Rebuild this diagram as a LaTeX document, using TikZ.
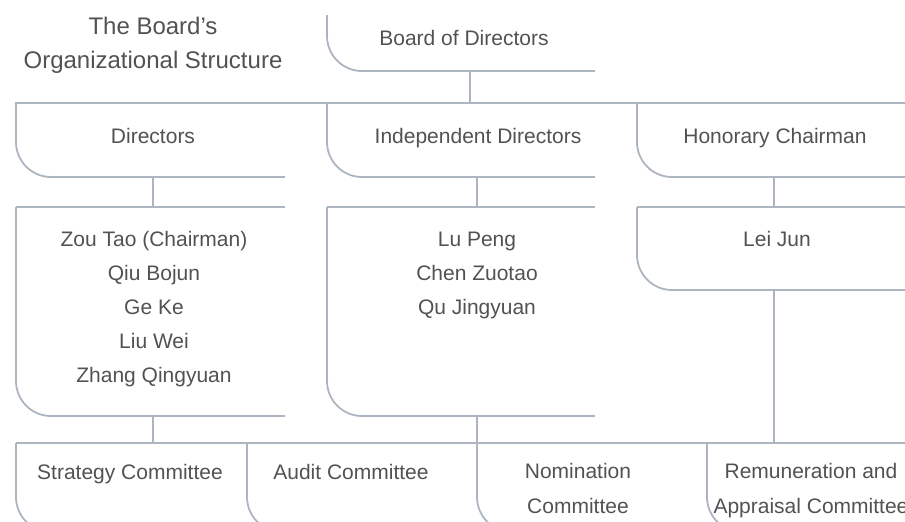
\documentclass[tikz,border=0pt]{standalone}
\usepackage{fontspec}
\setmainfont{Liberation Sans}
\definecolor{rulegray}{RGB}{172,181,192}
\definecolor{textgray}{RGB}{82,82,82}
\usetikzlibrary{calc}

\tikzset{
  orgline/.style={draw=rulegray, line width=1.8pt},
  bracket/.style={orgline, rounded corners=35pt},
  % multi-line text sits on the baseline of its last line
  boxtext/.style={text=textgray, inner sep=0pt, anchor=base, align=center,
    font=\fontsize{21}{34.2}\selectfont},
  headtext/.style={boxtext, font=\fontsize{24}{33.5}\selectfont}
}

\begin{document}
\begin{tikzpicture}[x=1pt, y=-1pt]
    \useasboundingbox (0,0) rectangle (905,522);
    \clip (0,0) rectangle (905,522);

    % Heading
    \node[headtext] (title) at (153,68) {The Board's\\Organizational Structure};

    % Board of Directors
    \draw[bracket] (327,15) -- (327,71) -- (595,71);
    \node[boxtext] (board) at (464,45) {Board of Directors};
    \coordinate (boardb) at (470,71);

    % First bus and the three groups
    \coordinate (bus1) at (15,103);
    \draw[orgline] (bus1) -- (905,103);
    \draw[orgline] (boardb) -- (boardb |- bus1);
    \foreach \x/\r in {16/285, 327/595, 637/905}
        \draw[bracket] (\x,103) -- (\x,177) -- (\r,177);
    \node[boxtext] (dir) at (153,143) {Directors};
    \node[boxtext] (ind) at (478,143) {Independent Directors};
    \node[boxtext] (hon) at (775,143) {Honorary Chairman};
    \coordinate (dirb) at (153,177);
    \coordinate (indb) at (477,177);
    \coordinate (honb) at (774,177);

    % Member boxes
    \coordinate (row2) at (16,207);
    \foreach \x/\r/\b in {16/285/416, 327/595/416, 637/905/290} {
        \draw[orgline] (\x,207) -- (\r,207);
        \draw[bracket] (\x,207) -- (\x,\b) -- (\r,\b);
    }
    \draw[orgline] (dirb) -- (dirb |- row2);
    \draw[orgline] (indb) -- (indb |- row2);
    \draw[orgline] (honb) -- (honb |- row2);

    \node[boxtext] (dirnames) at (154,382.8)
        {Zou Tao (Chairman)\\Qiu Bojun\\Ge Ke\\Liu Wei\\Zhang Qingyuan};
    \node[boxtext] (indnames) at (477,314.4) {Lu Peng\\Chen Zuotao\\Qu Jingyuan};
    \node[boxtext] (honname) at (777,246) {Lei Jun};
    \coordinate (dirm) at (153,416);
    \coordinate (indm) at (477,416);
    \coordinate (honm) at (774,290);

    % Second bus and the committees
    \coordinate (bus2) at (16,443);
    \draw[orgline] (bus2) -- (905,443);
    \draw[orgline] (dirm) -- (dirm |- bus2);
    \draw[orgline] (indm) -- (indm |- bus2);
    \draw[orgline] (honm) -- (honm |- bus2);
    \foreach \x in {16,247,477,707}
        \draw[bracket] (\x,443) -- (\x,532) -- (\x+150,532);

    \node[boxtext] (strat) at (130,479) {Strategy Committee};
    \node[boxtext] (audit) at (351,479) {Audit Committee};
    \node[boxtext] (nomin) at (578,513) {Nomination\\Committee};
    \node[boxtext] (remun) at (811,513) {Remuneration and\\Appraisal Committee};
\end{tikzpicture}
\end{document}
